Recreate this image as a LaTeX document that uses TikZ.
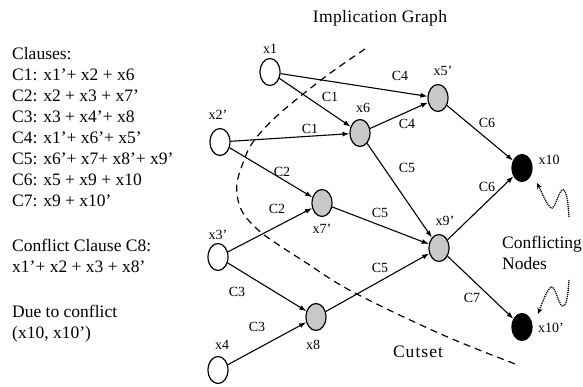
\documentclass[tikz,border=0pt]{standalone}
\usepackage{fontspec}
\setmainfont{Liberation Serif}
\usetikzlibrary{arrows.meta,shapes.geometric}
\definecolor{nodegray}{RGB}{200,200,200}
\begin{document}
\begin{tikzpicture}[x=1pt,y=-1pt,
  var/.style={ellipse, draw, line width=1.2pt, minimum width=20pt, minimum height=27pt, inner sep=0pt},
  freevar/.style={var, fill=white},
  impvar/.style={var, fill=nodegray},
  confvar/.style={var, fill=black},
  edge/.style={line width=1.1pt, -{Latex[length=7pt,width=5pt]}},
  lab/.style={font=\fontsize{14}{16}\selectfont, inner sep=0pt},
  big/.style={font=\fontsize{17.5}{21}\selectfont, inner sep=0pt},
  squig/.style={line width=1.3pt, dash pattern=on 1.1pt off 0.9pt, -{Stealth[length=6pt,width=5pt]}},
  cut/.style={line width=1.2pt, dash pattern=on 7pt off 5pt}]
\useasboundingbox (0,0) rectangle (583,387);

% left text
\node[big, align=left, anchor=north west] (clauses) at (12,47)
 {Clauses:\\
  C1: x1'+ x2 + x6\\
  C2: x2 + x3 + x7'\\
  C3: x3 + x4'+ x8\\
  C4: x1'+ x6'+ x5'\\
  C5: x6'+ x7+ x8'+ x9'\\
  C6: x5 + x9 + x10\\
  C7: x9 + x10'\\[24pt]
  Conflict Clause C8:\\
  x1'+ x2 + x3 + x8'\\[24pt]
  Due to conflict\\
  (x10, x10')};

\node[big] (title) at (380,18) {\addfontfeatures{LetterSpace=2}Implication Graph};

% nodes
\node[freevar] (x1) at (270,72) {};
\node[freevar] (x2) at (220,142) {};
\node[freevar] (x3) at (218,257) {};
\node[freevar] (x4) at (218,370) {};
\node[impvar] (x6) at (360,133) {};
\node[impvar] (x5) at (438,98) {};
\node[impvar] (x7) at (322,203) {};
\node[impvar] (x8) at (316,317) {};
\node[impvar] (x9) at (439,248) {};
\node[confvar] (x10) at (522,168) {};
\node[confvar] (x10n) at (522,327) {};

% node labels
\node[lab] (lx1) at (270,49) {x1};
\node[lab] (lx2) at (218,115) {x2'};
\node[lab] (lx3) at (218,235) {x3'};
\node[lab] (lx4) at (222,345) {x4};
\node[lab] (lx6) at (363,108) {x6};
\node[lab] (lx5) at (443,71) {x5'};
\node[lab] (lx7) at (322,229) {x7'};
\node[lab] (lx8) at (313,345) {x8};
\node[lab] (lx9) at (445,221) {x9'};
\node[lab] (lx10) at (549,160) {x10};
\node[lab] (lx10n) at (551,328) {x10'};

% edges
\draw[edge] (x1) -- (x5);
\draw[edge] (x1) -- (x6);
\draw[edge] (x2) -- (x6);
\draw[edge] (x2) -- (x7);
\draw[edge] (x6) -- (x5);
\draw[edge] (x6) -- (x9);
\draw[edge] (x3) -- (x7);
\draw[edge] (x3) -- (x8);
\draw[edge] (x4) -- (x8);
\draw[edge] (x7) -- (x9);
\draw[edge] (x8) -- (x9);
\draw[edge] (x5) -- (x10);
\draw[edge] (x9) -- (x10);
\draw[edge] (x9) -- (x10n);

% edge labels
\node[lab] (e1) at (400,76) {C4};
\node[lab] (e2) at (330,97) {C1};
\node[lab] (e3) at (310,129) {C1};
\node[lab] (e4) at (282,172) {C2};
\node[lab] (e5) at (407,124) {C4};
\node[lab] (e6) at (407,168) {C5};
\node[lab] (e7) at (277,209) {C2};
\node[lab] (e8) at (380,213) {C5};
\node[lab] (e9) at (237,292) {C3};
\node[lab] (e10) at (380,268) {C5};
\node[lab] (e11) at (257,327) {C3};
\node[lab] (e12) at (487,123) {C6};
\node[lab] (e13) at (487,187) {C6};
\node[lab] (e14) at (472,298) {C7};

% cutset
\draw[cut] plot[smooth, tension=0.6] coordinates {(365,49) (325,77) (278,115) (253,142) (243,163) (237,183) (238,200) (243,213) (252,224) (267,237) (305,262) (353,292) (443,335) (518,365)};
\node[big] (cutset) at (418,352) {\addfontfeatures{LetterSpace=6}Cutset};

% conflicting nodes
\node[big, align=left, anchor=west] (confl) at (502,253) {Conflicting\\Nodes};
\coordinate (s1) at (569,217);
\coordinate (t1) at (537,183);
\coordinate (s2) at (569,280);
\coordinate (t2) at (538,314);
\draw[squig] (s1) .. controls (568,200) and (566,188) .. (562,190)
  .. controls (558,193) and (555,210) .. (551,208)
  .. controls (547,205) and (542,193) .. (t1);
\draw[squig] (s2) .. controls (568,297) and (566,308) .. (562,306)
  .. controls (558,303) and (555,285) .. (551,287)
  .. controls (547,290) and (542,303) .. (t2);
\end{tikzpicture}
\end{document}
